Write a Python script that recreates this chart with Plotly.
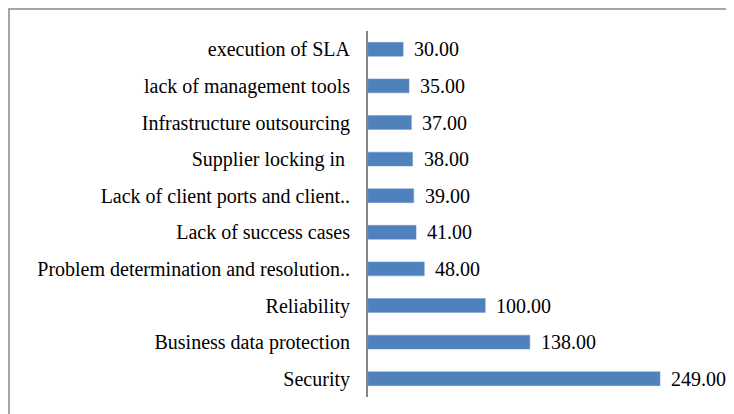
import plotly.graph_objects as go

categories = ["Security", "Business data protection", "Reliability",
              "Problem determination and resolution..", "Lack of success cases",
              "Lack of client ports and client..", "Supplier locking in ",
              "Infrastructure outsourcing", "lack of management tools", "execution of SLA"]
values = [249, 138, 100, 48, 41, 39, 38, 37, 35, 30]

FONT = "Liberation Serif, Times New Roman, serif"
# page body has an 8px margin; work in figure pixels
O = 8
W, H = 734 - O, 414 - O
L, R, T, B = 368 - O, 0, 31 - O, 17
pw = W - L - R
ph = H - T - B
scale = 292 / 249.0
xmax = pw / scale

fig = go.Figure(go.Bar(
    x=values, y=categories, orientation="h",
    marker=dict(color="#4f81bd", line=dict(color="#6d97cc", width=0.5)),
    width=0.38, hoverinfo="skip",
))

for v, c in zip(values, categories):
    fig.add_annotation(x=v, y=c, xref="x", yref="y", text=f"{v:.2f}",
                       showarrow=False, xanchor="left", xshift=9,
                       font=dict(family=FONT, size=20, color="#000"))

def px_x(p):
    return (p - L) / pw

def px_y(p):
    return 1 - (p - T) / ph

fig.add_shape(type="rect", xref="paper", yref="paper",
              x0=px_x(1), x1=px_x(W - 1), y0=px_y(1), y1=px_y(H + 20),
              line=dict(color="#a6a6a6", width=2), layer="below")

fig.update_layout(
    width=W, height=H,
    margin=dict(l=L, r=R, t=T, b=B, autoexpand=False),
    paper_bgcolor="white", plot_bgcolor="white",
    showlegend=False,
    font=dict(family=FONT, size=20, color="#000"),
    xaxis=dict(range=[0, xmax], visible=False, fixedrange=True, automargin=False),
    yaxis=dict(showline=True, linecolor="#868686", linewidth=2, automargin=False,
               ticks="", ticklabelstandoff=12, showgrid=False,
               tickfont=dict(family=FONT, size=20, color="#000"),
               range=[-0.5, len(categories) - 0.5]),
)

fig.write_html("out.html")
